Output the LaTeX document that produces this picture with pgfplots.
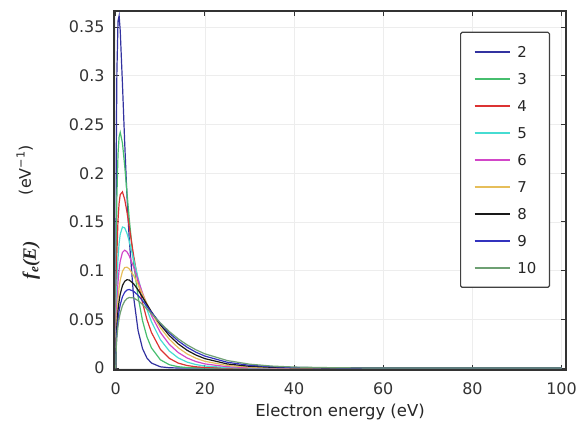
\documentclass[border=0pt]{standalone}
\usepackage{fontspec}
\setmainfont{DejaVu Sans}
\newfontfamily\fserif{Liberation Serif}
\usepackage{pgfplots}
\usepackage{pgfplotstable}
\pgfplotsset{compat=1.18}

\definecolor{c2}{RGB}{50,50,160}
\definecolor{c3}{RGB}{70,190,110}
\definecolor{c4}{RGB}{220,50,50}
\definecolor{c5}{RGB}{70,220,210}
\definecolor{c6}{RGB}{210,70,200}
\definecolor{c7}{RGB}{230,190,90}
\definecolor{c8}{RGB}{25,25,25}
\definecolor{c9}{RGB}{50,50,190}
\definecolor{c10}{RGB}{110,160,115}

% electron energy distribution, one column per mean energy (eV)
\pgfplotstableread{
E     n2      n3      n4      n5      n6      n7      n8      n9      n10
0     0       0       0       0       0       0       0       0       0
0.1   0.21501 0.12001 0.07893 0.05690 0.04350 0.03465 0.02843 0.02388 0.02042
0.25  0.30380 0.17603 0.11797 0.08601 0.06625 0.05305 0.04371 0.03682 0.03157
0.5   0.35618 0.21970 0.15190 0.11284 0.08802 0.07111 0.05898 0.04995 0.04300
0.75  0.36165 0.23745 0.16939 0.12822 0.10127 0.08254 0.06893 0.05868 0.05073
1     0.34620 0.24197 0.17809 0.13736 0.10985 0.09034 0.07595 0.06499 0.05642
1.5   0.29141 0.23080 0.18082 0.14479 0.11873 0.09941 0.08469 0.07323 0.06411
2     0.23127 0.20755 0.17310 0.14390 0.12099 0.10312 0.08905 0.07780 0.06868
2.5   0.17771 0.18072 0.16046 0.13848 0.11937 0.10358 0.09064 0.08003 0.07124
3     0.13380 0.15418 0.14571 0.13057 0.11540 0.10194 0.09041 0.08066 0.07240
4     0.07298 0.10798 0.11564 0.11169 0.10378 0.09500 0.08655 0.07884 0.07195
5     0.03854 0.07323 0.08885 0.09251 0.09036 0.08573 0.08023 0.07461 0.06924
6     0.01994 0.04865 0.06690 0.07507 0.07709 0.07579 0.07285 0.06918 0.06528
7     0.01018 0.03187 0.04966 0.06007 0.06485 0.06608 0.06524 0.06326 0.06069
8     0.00514 0.02067 0.03649 0.04757 0.05399 0.05702 0.05782 0.05724 0.05584
10    0.00128 0.00850 0.01927 0.02919 0.03661 0.04152 0.04443 0.04586 0.04626
12    0.00031 0.00343 0.00997 0.01755 0.02433 0.02963 0.03345 0.03600 0.03754
14    0.00008 0.00136 0.00509 0.01040 0.01594 0.02085 0.02483 0.02786 0.03004
16    0.00002 0.00054 0.00257 0.00610 0.01033 0.01452 0.01825 0.02134 0.02379
18    0       0.00021 0.00129 0.00355 0.00665 0.01004 0.01330 0.01622 0.01869
20    0       0.00008 0.00064 0.00206 0.00425 0.00689 0.00964 0.01225 0.01460
25    0       0.00001 0.00011 0.00051 0.00136 0.00264 0.00422 0.00595 0.00771
30    0       0       0.00002 0.00013 0.00043 0.00099 0.00181 0.00283 0.00399
35    0       0       0       0.00003 0.00013 0.00037 0.00077 0.00133 0.00204
40    0       0       0       0       0.00004 0.00013 0.00032 0.00062 0.00103
50    0       0       0       0       0       0.00002 0.00005 0.00013 0.00026
60    0       0       0       0       0       0       0.00001 0.00003 0.00006
80    0       0       0       0       0       0       0       0       0
100   0       0       0       0       0       0       0       0       0
}\eedf

\begin{document}
\begin{tikzpicture}
\begin{axis}[
    at={(0,0)}, anchor=south west,
    scale only axis,
    width=452bp, height=359bp,
    xmin=-0.4, xmax=101,
    ymin=-0.002, ymax=0.3665,
    xtick={0,20,40,60,80,100},
    ytick={0,0.05,0.1,0.15,0.2,0.25,0.3,0.35},
    scaled y ticks=false,
    yticklabel style={/pgf/number format/fixed, /pgf/number format/precision=2, xshift=-6bp},
    xticklabel style={yshift=-9bp},
    /pgf/number format/assume math mode=true,
    tick align=inside,
    major tick length=5bp,
    grid=major,
    grid style={black!7, line width=0.6bp},
    axis line style={black!80, line width=1.2bp},
    tick style={black!80, line width=1bp},
    tick label style={font=\fontsize{16}{18}\selectfont, text=black!80},
    xlabel={Electron energy (eV)},
    xlabel style={at={(axis description cs:0.5,-0.118)}, anchor=center,
        font=\fontsize{16.5}{19}\selectfont, text=black!85},
    ylabel={{\fserif\fontsize{19}{22}\selectfont\bfseries\itshape f\textsubscript{e}(E)}\hspace{46bp}\raisebox{5bp}{(eV\textsuperscript{\char"2212 1})}},
    ylabel style={at={(axis description cs:-0.19,0.44)}, anchor=center,
        font=\fontsize{16}{18}\selectfont, text=black!85},
    legend cell align=left,
    legend style={at={(axis description cs:0.7655,0.9423)}, anchor=north west,
        draw=black!75, line width=1.2bp, rounded corners=1.5bp,
        inner xsep=13bp, inner ysep=14bp, row sep=16bp, column sep=7bp,
        nodes={inner sep=0bp, text height=11bp, text depth=0bp,
            font=\fontsize{15}{17}\selectfont, text=black!85}},
    legend image code/.code={\draw[#1, line width=1.8bp] (0bp,0bp) -- (35bp,0bp);},
    every axis plot/.append style={line width=1.2bp},
]
\addplot[c2] table[x=E, y=n2] {\eedf};
\addlegendentry{2}
\addplot[c3] table[x=E, y=n3] {\eedf};
\addlegendentry{3}
\addplot[c4] table[x=E, y=n4] {\eedf};
\addlegendentry{4}
\addplot[c5] table[x=E, y=n5] {\eedf};
\addlegendentry{5}
\addplot[c6] table[x=E, y=n6] {\eedf};
\addlegendentry{6}
\addplot[c7] table[x=E, y=n7] {\eedf};
\addlegendentry{7}
\addplot[c8] table[x=E, y=n8] {\eedf};
\addlegendentry{8}
\addplot[c9] table[x=E, y=n9] {\eedf};
\addlegendentry{9}
\addplot[c10] table[x=E, y=n10] {\eedf};
\addlegendentry{10}
\end{axis}
\pgfresetboundingbox
\path[use as bounding box] (-114bp,-55bp) rectangle (473bp,370bp);
\end{tikzpicture}
\end{document}
